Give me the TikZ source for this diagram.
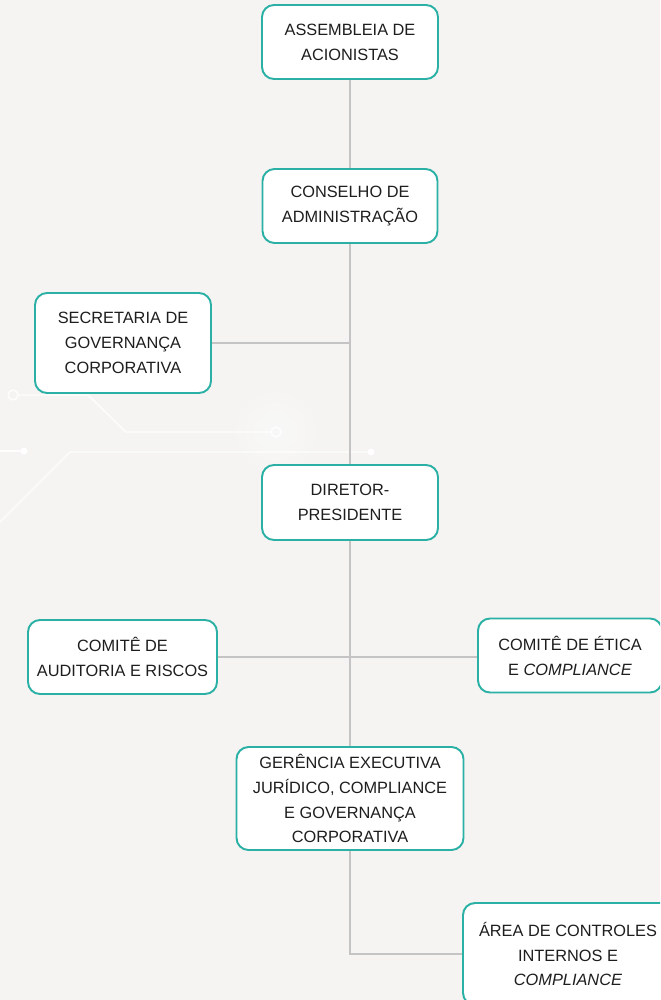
\documentclass[tikz,border=0pt]{standalone}
\usepackage{fontspec}
\setmainfont{Liberation Sans}
\usetikzlibrary{positioning, calc}
\definecolor{Dark}{HTML}{1E1E1E}
\definecolor{Teal}{HTML}{2BB0A5}
\definecolor{Wire}{HTML}{C4C4C4}
\definecolor{Paper}{HTML}{F5F4F2}
\definecolor{White}{HTML}{FFFFFF}
\tikzset{
    orgnode/.style={rectangle, rounded corners=6.8pt, draw=Teal, line width=1.1pt, fill=White, text=Dark, align=center, inner sep=0pt, font=\fontsize{9.3pt}{14.2pt}\selectfont},
    connector/.style={draw=Wire, line width=0.8pt},
    circuit/.style={draw=White, line width=0.8pt, opacity=0.9},
}
\begin{document}
\begin{tikzpicture}[x=0.02cm, y=-0.02cm]
    \useasboundingbox (0,0) rectangle (660,1000);
    \clip (0,0) rectangle (660,1000);
    \fill[Paper] (0,0) rectangle (660,1000);

    % Circuito decorativo
    \foreach \r in {40,30,22,15,10} {
        \fill[White, opacity=0.12] (276,432) circle (\r*0.02cm);
    }
    \draw[circuit] (18,395) -- (88,395) -- (126,432) -- (271,432);
    \draw[circuit] (13,395) circle (2.8pt);
    \draw[circuit] (276,432) circle (2.8pt);
    \draw[circuit] (0,451) -- (24,451);
    \fill[White] (24,451) circle (2pt);
    \draw[circuit] (0,522) -- (70,452) -- (371,452);
    \fill[White] (371,452) circle (2pt);

    % Nos
    \node[orgnode, minimum width=3.52cm, minimum height=1.48cm] (asm) at (350,42) {ASSEMBLEIA DE\\ACIONISTAS};
    \node[orgnode, minimum width=3.5cm, minimum height=1.48cm] (cons) at (350,206) {CONSELHO DE\\ADMINISTRAÇÃO};
    \node[orgnode, minimum width=3.52cm, minimum height=2.0cm] (sec) at (123,343) {SECRETARIA DE\\GOVERNANÇA\\CORPORATIVA};
    \node[orgnode, minimum width=3.52cm, minimum height=1.5cm] (dir) at (350,502.5) {DIRETOR-\\PRESIDENTE};
    \node[orgnode, minimum width=3.78cm, minimum height=1.48cm] (aud) at (122.5,657) {COMITÊ DE\\AUDITORIA E RISCOS};
    \node[orgnode, minimum width=3.68cm, minimum height=1.48cm] (etica) at (570,655.5) {COMITÊ DE ÉTICA\\E \textit{COMPLIANCE}};
    \node[orgnode, minimum width=4.54cm, minimum height=2.06cm] (ger) at (350,798.5) {GERÊNCIA EXECUTIVA\\JURÍDICO, COMPLIANCE\\E GOVERNANÇA\\CORPORATIVA};
    \node[orgnode, minimum width=4.2cm, minimum height=2.04cm] (area) at (568,954) {ÁREA DE CONTROLES\\INTERNOS E\\\textit{COMPLIANCE}};

    % Ligacoes
    \draw[connector] (asm.south) -- (cons.north);
    \draw[connector] (cons.south) -- (dir.north);
    \draw[connector] (sec.east) -- (sec.east -| cons.south);
    \draw[connector] (dir.south) -- (ger.north);
    \draw[connector] (aud.east) -- (aud.east -| etica.west);
    \draw[connector] (ger.south) |- (area.west);
\end{tikzpicture}
\end{document}
